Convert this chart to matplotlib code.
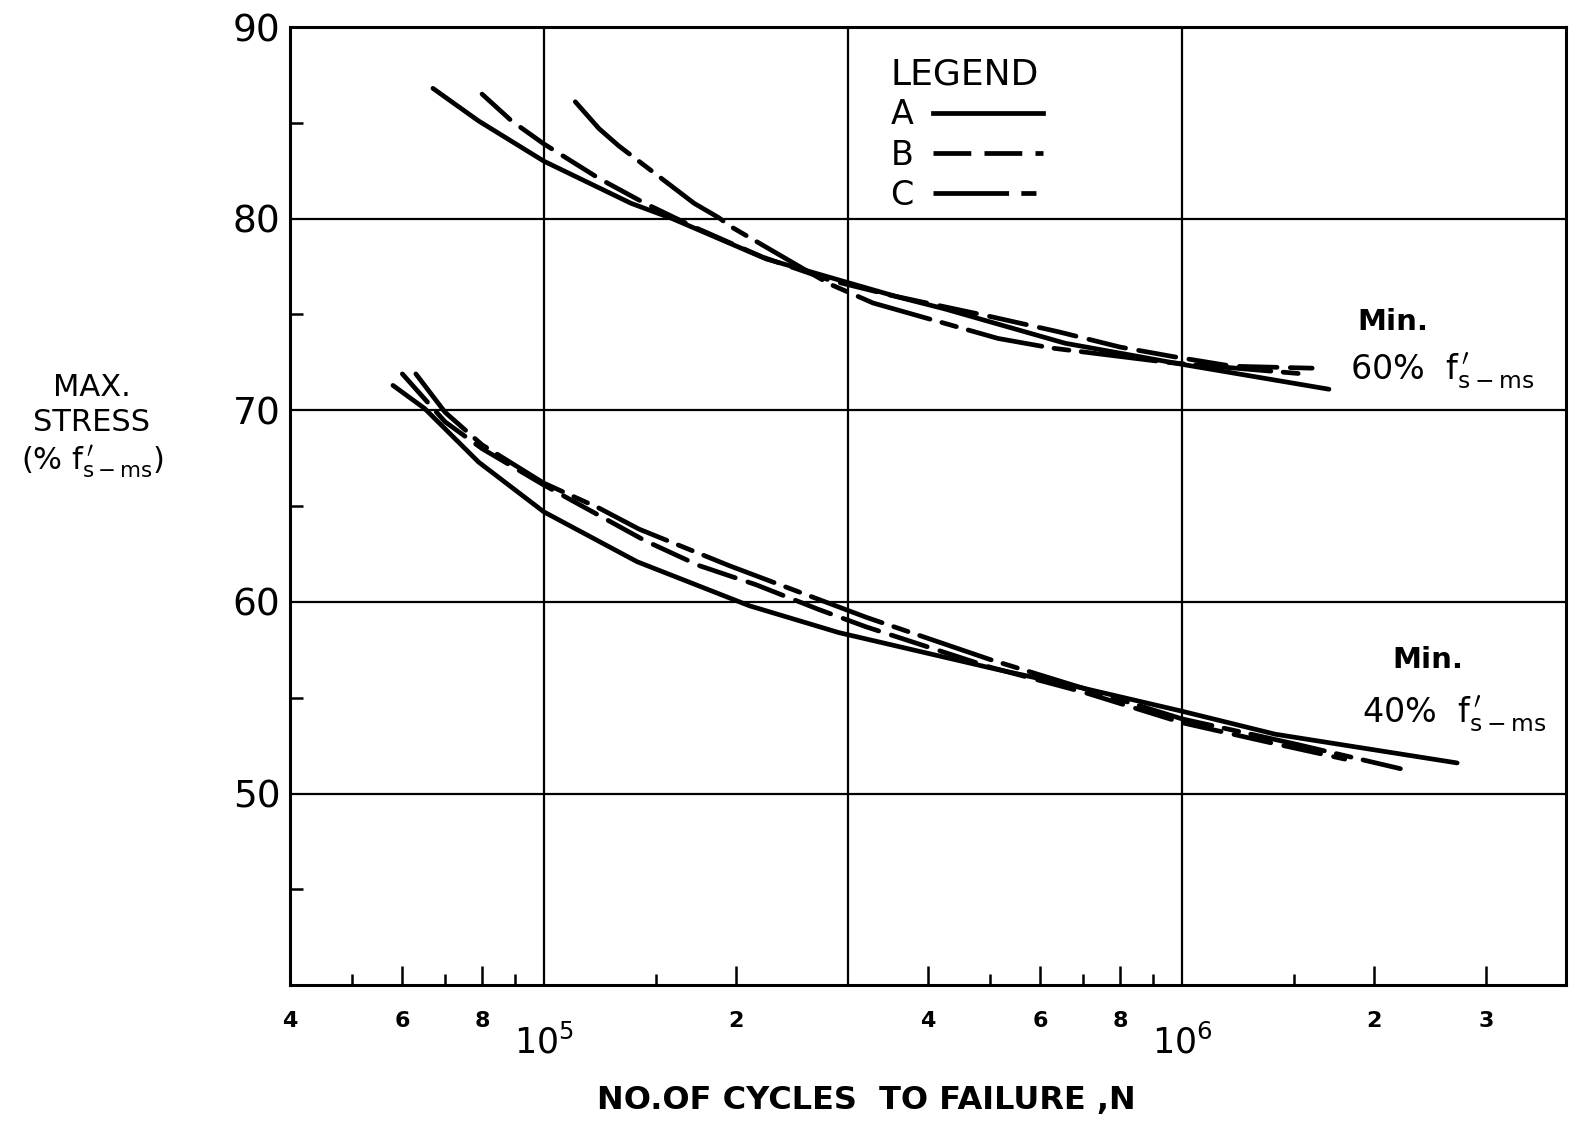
import matplotlib
matplotlib.use("Agg")
import matplotlib.pyplot as plt
import matplotlib.transforms as mtransforms
from matplotlib.lines import Line2D

plt.rcParams['font.family'] = ['DejaVu Sans']
plt.rcParams['mathtext.fontset'] = 'dejavusans'

# min. 60% group
n_60_a = [6.7e4, 7.9e4, 1.0e5, 1.37e5, 1.59e5, 2.23e5, 2.97e5, 3.6e5, 4.24e5, 6.56e5, 1.0e6, 1.7e6]
s_60_a = [86.8, 85.1, 83.0, 80.8, 80.0, 77.9, 76.7, 75.9, 75.3, 73.5, 72.4, 71.1]
n_60_b = [8.0e4, 8.9e4, 1.0e5, 1.22e5, 1.44e5, 1.71e5, 2.2e5, 2.8e5, 3.5e5, 5.0e5, 6.4e5, 8.0e5, 9.7e5, 1.2e6, 1.6e6]
s_60_b = [86.5, 85.1, 83.9, 82.1, 80.8, 79.6, 78.0, 76.8, 76.0, 74.9, 74.1, 73.3, 72.8, 72.3, 72.2]
n_60_c = [1.12e5, 1.22e5, 1.31e5, 1.72e5, 1.88e5, 1.96e5, 2.8e5, 3.28e5, 5.15e5, 6.25e5, 9.5e5, 1.55e6]
s_60_c = [86.1, 84.7, 83.8, 80.8, 80.05, 79.6, 76.6, 75.6, 73.75, 73.25, 72.5, 71.9]

# min. 40% group
n_40_a = [5.8e4, 6.5e4, 7.9e4, 1.0e5, 1.4e5, 2.1e5, 2.9e5, 5.1e5, 6.8e5, 1.0e6, 1.4e6, 2.7e6]
s_40_a = [71.3, 70.1, 67.3, 64.7, 62.1, 59.8, 58.4, 56.5, 55.6, 54.3, 53.1, 51.6]
n_40_b = [6.0e4, 7.0e4, 8.0e4, 1.0e5, 1.44e5, 1.75e5, 2.15e5, 2.7e5, 3.2e5, 5.0e5, 7.0e5, 1.0e6, 1.4e6, 1.8e6]
s_40_b = [71.9, 69.4, 68.0, 66.1, 63.2, 61.9, 60.9, 59.6, 58.7, 56.6, 55.3, 53.7, 52.6, 51.8]
n_40_c = [6.3e4, 7.0e4, 8.0e4, 1.0e5, 1.22e5, 1.41e5, 1.95e5, 3.2e5, 5.0e5, 7.0e5, 1.0e6, 1.5e6, 2.2e6]
s_40_c = [71.9, 69.9, 68.2, 66.2, 64.9, 63.8, 61.9, 59.2, 57.0, 55.5, 53.9, 52.6, 51.3]

x_tick_vals = [4e4, 6e4, 8e4, 2e5, 4e5, 6e5, 8e5, 2e6, 3e6]
x_tick_text = ["4", "6", "8", "2", "4", "6", "8", "2", "3"]
decade_vals = [1e5, 1e6]
decade_text = ["$10^5$", "$10^6$"]
x_long_ticks = [6e4, 8e4, 2e5, 4e5, 6e5, 8e5, 2e6, 3e6]
x_short_ticks = [5e4, 7e4, 9e4, 1.5e5, 5e5, 7e5, 9e5, 1.5e6]
x_grid = [1e5, 3e5, 1e6]
y_grid = [50, 60, 70, 80]
y_labels = [50, 60, 70, 80, 90]
y_minor = [45, 55, 65, 75, 85]

LW = 3.4
dash_b = (8, 2.8)
dash_c = (16, 2.6, 3.2, 2.6)

fig = plt.figure(figsize=(15.76, 11.26), dpi=100)
ax = fig.add_axes([0.184, 0.125, 0.8097, 0.851])
ax.set_xscale("log")
ax.set_xlim(4e4, 4e6)
ax.set_ylim(40, 90)

for v in x_grid:
    ax.axvline(v, color="black", lw=1.6, zorder=1)
for v in y_grid:
    ax.axhline(v, color="black", lw=1.6, zorder=1)

for n, s in [(n_60_a, s_60_a), (n_40_a, s_40_a)]:
    ax.plot(n, s, color="black", lw=LW, solid_capstyle="round", solid_joinstyle="round", zorder=3)
for n, s in [(n_60_b, s_60_b), (n_40_b, s_40_b)]:
    ax.plot(n, s, color="black", lw=LW, dashes=dash_b, dash_capstyle="round", zorder=3)
for n, s in [(n_60_c, s_60_c), (n_40_c, s_40_c)]:
    ax.plot(n, s, color="black", lw=LW, dashes=dash_c, dash_capstyle="round", zorder=3)

for sp in ax.spines.values():
    sp.set_linewidth(2.2)

# ticks
ax.set_xticks(x_long_ticks)
ax.set_xticklabels([])
ax.set_xticks(x_short_ticks, minor=True)
ax.set_xticklabels([], minor=True)
ax.tick_params(axis="x", which="major", direction="in", length=14, width=1.8)
ax.tick_params(axis="x", which="minor", direction="in", length=8, width=1.8)

ax.set_yticks(y_labels)
ax.set_yticklabels([str(v) for v in y_labels], fontsize=27)
ax.set_yticks(y_minor, minor=True)
ax.tick_params(axis="y", which="major", length=0, pad=7)
ax.tick_params(axis="y", which="minor", direction="in", length=9, width=1.8)

trans = mtransforms.blended_transform_factory(ax.transData, ax.transAxes)
for v, t in zip(x_tick_vals, x_tick_text):
    ax.text(v, -0.037, t, transform=trans, ha="center", va="center",
            fontsize=16, fontweight="bold")
for v, t in zip(decade_vals, decade_text):
    ax.text(v, -0.060, t, transform=trans, ha="center", va="center", fontsize=25)

# legend
handles = [
    Line2D([], [], color="black", lw=LW),
    Line2D([], [], color="black", lw=LW, dashes=dash_b),
    Line2D([], [], color="black", lw=LW, dashes=dash_c),
]
leg = ax.legend(handles, ["A", "B", "C"], title="LEGEND", markerfirst=False,
                frameon=False, loc="upper left", bbox_to_anchor=(0.452, 0.993),
                fontsize=24, title_fontproperties={"size": 26},
                handlelength=3.3, labelspacing=0.22, handletextpad=0.6,
                alignment="left", borderpad=0.2)

# curve annotations
fig.text(1393 / 1576, 1 - 322 / 1126, "Min.", fontsize=21, fontweight="bold",
         ha="center", va="center")
fig.text(1350 / 1576, 1 - 372 / 1126, r"60%  f$^{\,\prime}_{\mathrm{s-ms}}$", fontsize=24,
         ha="left", va="center")
fig.text(1428 / 1576, 1 - 660 / 1126, "Min.", fontsize=21, fontweight="bold",
         ha="center", va="center")
fig.text(1362 / 1576, 1 - 715 / 1126, r"40%  f$^{\,\prime}_{\mathrm{s-ms}}$", fontsize=24,
         ha="left", va="center")

# axis titles
fig.text(92 / 1576, 1 - 427 / 1126, "MAX.\nSTRESS\n" + r"(% f$^{\,\prime}_{\mathrm{s-ms}}$)",
         fontsize=22, ha="center", va="center", linespacing=1.25)
fig.text(866 / 1576, 1 - 1100 / 1126, "NO.OF CYCLES  TO FAILURE ,N",
         fontsize=23, fontweight="bold", ha="center", va="center")

fig.savefig("out.png", dpi=100)
